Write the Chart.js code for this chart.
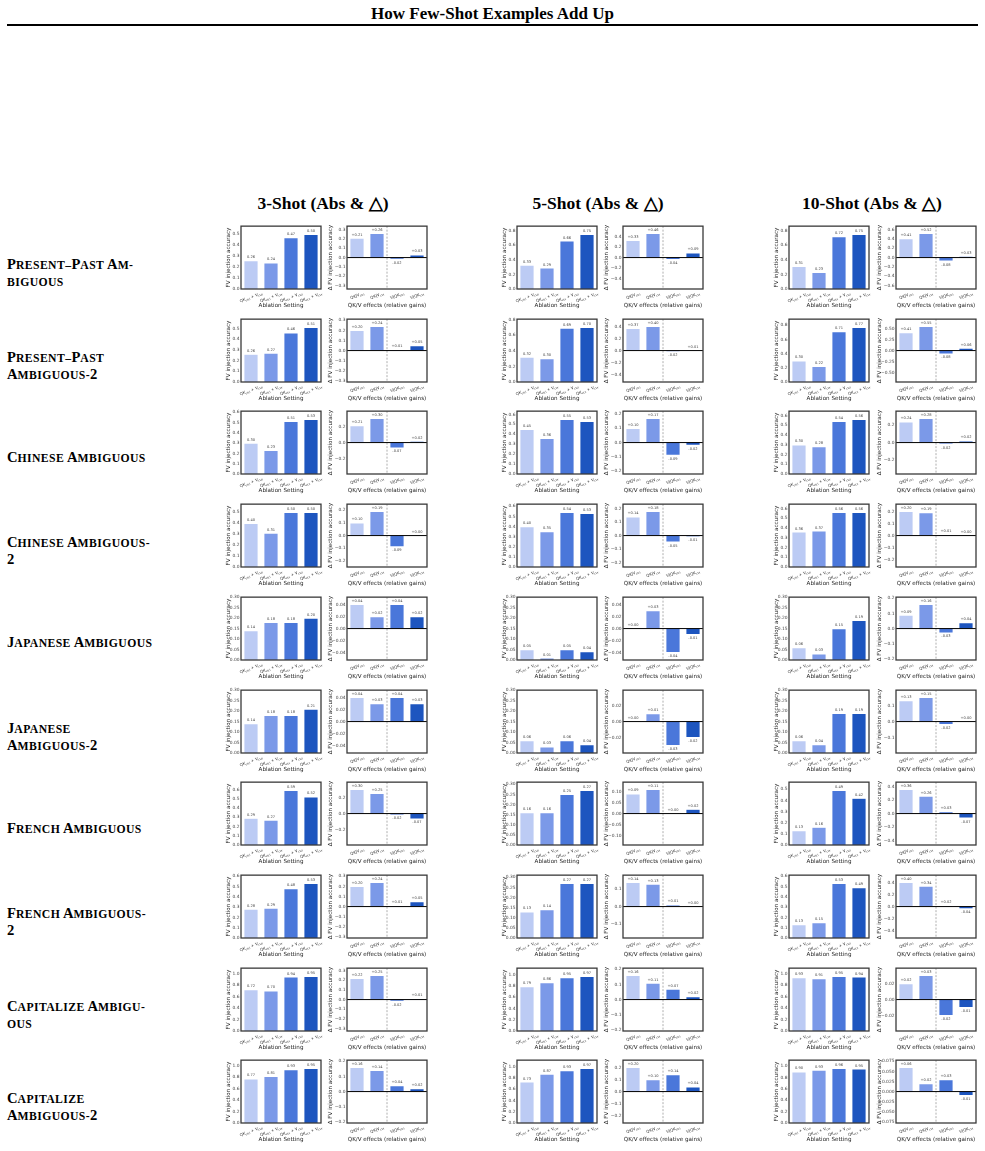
<!DOCTYPE html>
<html>
<head>
<meta charset="utf-8">
<script src="https://cdn.jsdelivr.net/npm/chart.js@4.4.1/dist/chart.umd.min.js"></script>
<style>
  body { margin: 0; background: #fff; }
  #page { position: relative; width: 985px; height: 1151px; overflow: hidden; }
  .title { position: absolute; left: 0; width: 985px; top: 4px; text-align: center; font: bold 17px "Liberation Serif"; }
  .rule { position: absolute; left: 7px; width: 971px; top: 24px; height: 2px; background: #000; }
  .head { position: absolute; top: 193px; width: 240px; text-align: center; font: bold 17.5px/20px "Liberation Serif"; }
  .task { position: absolute; left: 7px; font-family: "Liberation Serif"; font-weight: bold; line-height: 15px; white-space: nowrap; }
  .task span { line-height: 15px; }
  .task .b { font-size: 14.6px; }
  .task .s { font-size: 11.7px; letter-spacing: 0.4px; }
  canvas { position: absolute; }
</style>
</head>
<body>
<div id="page">
  <div class="title">How Few-Shot Examples Add Up</div>
  <div class="rule"></div>
</div>
<script>
// ---- data ----
const shots = ['3-Shot', '5-Shot', '10-Shot'];
const taskLines = [
  ['Present–Past Am-', 'biguous'],
  ['Present–Past', 'Ambiguous-2'],
  ['Chinese Ambiguous'],
  ['Chinese Ambiguous-', '2'],
  ['Japanese Ambiguous'],
  ['Japanese', 'Ambiguous-2'],
  ['French Ambiguous'],
  ['French Ambiguous-', '2'],
  ['Capitalize Ambigu-', 'ous'],
  ['Capitalize', 'Ambiguous-2']
];
const settings = ['QK_ctrl + V_ctrl', 'QK_ctrl + V_ctx', 'QK_ctx + V_ctrl', 'QK_ctx + V_ctx'];
const effects = ['QK|V_ctrl', 'QK|V_ctx', 'V|QK_ctrl', 'V|QK_ctx'];

const abs3 = [
  [0.26, 0.24, 0.47, 0.50], [0.26, 0.27, 0.46, 0.51], [0.30, 0.23, 0.51, 0.53],
  [0.40, 0.31, 0.50, 0.50], [0.14, 0.18, 0.18, 0.20], [0.14, 0.18, 0.18, 0.21],
  [0.29, 0.27, 0.59, 0.52], [0.28, 0.29, 0.48, 0.53], [0.72, 0.70, 0.94, 0.95],
  [0.77, 0.81, 0.93, 0.95]
];
const delta3 = [
  [0.21, 0.26, -0.02, 0.03], [0.20, 0.24, 0.01, 0.05], [0.21, 0.30, -0.07, 0.02],
  [0.10, 0.19, -0.09, 0.00], [0.04, 0.02, 0.04, 0.02], [0.04, 0.03, 0.04, 0.03],
  [0.30, 0.25, -0.02, -0.07], [0.20, 0.24, 0.01, 0.05], [0.22, 0.25, -0.02, 0.01],
  [0.16, 0.14, 0.04, 0.02]
];
const abs5 = [
  [0.33, 0.29, 0.66, 0.75], [0.32, 0.30, 0.69, 0.70], [0.45, 0.36, 0.55, 0.53],
  [0.40, 0.35, 0.54, 0.53], [0.05, 0.01, 0.05, 0.04], [0.06, 0.03, 0.06, 0.04],
  [0.16, 0.16, 0.25, 0.27], [0.13, 0.14, 0.27, 0.27], [0.79, 0.86, 0.95, 0.97],
  [0.73, 0.87, 0.93, 0.97]
];
const delta5 = [
  [0.33, 0.46, -0.04, 0.09], [0.37, 0.40, -0.02, 0.01], [0.10, 0.17, -0.09, -0.02],
  [0.14, 0.18, -0.05, -0.01], [0.00, 0.03, -0.04, -0.01], [0.00, 0.01, -0.03, -0.02],
  [0.09, 0.11, 0.00, 0.02], [0.14, 0.13, 0.01, 0.00], [0.16, 0.11, 0.07, 0.02],
  [0.20, 0.10, 0.14, 0.04]
];
const abs10 = [
  [0.31, 0.23, 0.72, 0.75], [0.30, 0.22, 0.71, 0.77], [0.30, 0.28, 0.54, 0.56],
  [0.36, 0.37, 0.56, 0.56], [0.06, 0.03, 0.15, 0.19], [0.06, 0.04, 0.19, 0.19],
  [0.13, 0.16, 0.49, 0.42], [0.13, 0.15, 0.53, 0.49], [0.93, 0.91, 0.95, 0.94],
  [0.90, 0.93, 0.96, 0.95]
];
const delta10 = [
  [0.41, 0.52, -0.08, 0.03], [0.41, 0.55, -0.08, 0.06], [0.24, 0.28, -0.02, 0.02],
  [0.20, 0.19, 0.01, 0.00], [0.09, 0.16, -0.03, 0.04], [0.13, 0.15, -0.02, 0.00],
  [0.36, 0.26, 0.03, -0.07], [0.40, 0.34, 0.02, -0.04], [0.02, 0.03, -0.02, -0.01],
  [0.06, 0.02, 0.03, -0.01]
];
const absData = [abs3, abs5, abs10];
const deltaData = [delta3, delta5, delta10];

const barColors = ['#bccbf4', '#7b99e8', '#4a77da', '#1d55bf'];

// ---- layout ----
const absLeft = [241, 517, 789];
const deltaLeft = [347, 623, 896];
const headCenter = [323, 598, 872];
const plotW = 80, plotH = 63;
const rowTop = r => 226 + r * 92.7;

const page = document.getElementById('page');
Chart.defaults.font.family = '"DejaVu Sans"';
Chart.defaults.color = '#333';

// matplotlib-ish tick step (about 7 bins)
function niceStep(range) {
  const raw = range / 7;
  const mag = Math.pow(10, Math.floor(Math.log10(raw)));
  const n = raw / mag;
  for (const s of [1, 2, 2.5, 5, 10]) if (n <= s + 1e-9) return s * mag;
  return 10 * mag;
}
function decimals(step) {
  let d = 0;
  while (Math.abs(Math.round(step * Math.pow(10, d)) - step * Math.pow(10, d)) > 1e-6) d++;
  return d;
}
function tickValues(min, max, step) {
  const out = [];
  for (let k = Math.ceil(min / step - 1e-9); k * step <= max + 1e-9; k++) out.push(+(k * step).toFixed(6));
  return out;
}
// "QK_ctrl + V_ctx" -> [['QK',0],['ctrl',1],[' + V',0],['ctx',1]]
function labelParts(s) {
  return s.split(/_(\w+)/).filter(t => t !== '').map(t => [t, /^(ctrl|ctx)$/.test(t) ? 1 : 0]);
}
// hand-made small caps like the LaTeX row labels
function smallCaps(line) {
  return line.split(' ').map(word => {
    let html = '';
    for (const ch of word) {
      const big = ch !== ch.toLowerCase() || /[0-9]/.test(ch);
      html += '<span class="' + (big ? 'b' : 's') + '">' + ch.toUpperCase() + '</span>';
    }
    return html;
  }).join('<span class="b"> </span>');
}

const decor = {
  id: 'decor',
  afterDatasetsDraw(chart, args, opts) {
    const ctx = chart.ctx, a = chart.chartArea;
    const xs = chart.scales.x, ys = chart.scales.y;
    ctx.save();
    if (opts.delta) {
      const xm = (xs.getPixelForValue(1) + xs.getPixelForValue(2)) / 2;
      ctx.strokeStyle = '#9a9a9a'; ctx.lineWidth = 0.8; ctx.setLineDash([2, 1.5]);
      ctx.beginPath(); ctx.moveTo(xm, a.top); ctx.lineTo(xm, a.bottom); ctx.stroke();
      ctx.setLineDash([]);
      const y0 = ys.getPixelForValue(0);
      ctx.strokeStyle = '#000'; ctx.lineWidth = 1;
      ctx.beginPath(); ctx.moveTo(a.left, y0); ctx.lineTo(a.right, y0); ctx.stroke();
    }
    // bar value labels
    const meta = chart.getDatasetMeta(0);
    ctx.font = '3.6px "DejaVu Sans"'; ctx.fillStyle = '#444'; ctx.textAlign = 'center';
    chart.data.datasets[0].data.forEach((v, i) => {
      const bar = meta.data[i];
      let txt = v.toFixed(2);
      if (opts.delta && v >= 0) txt = '+' + txt;
      if (v >= 0) { ctx.textBaseline = 'bottom'; ctx.fillText(txt, bar.x, bar.y - 1.5); }
      else { ctx.textBaseline = 'top'; ctx.fillText(txt, bar.x, bar.y + 1.5); }
    });
    // rotated category labels with subscripts
    const ang = 20 * Math.PI / 180;
    const fontFor = lv => lv ? '2.9px "DejaVu Sans"' : '4px "DejaVu Sans"';
    ctx.fillStyle = '#333'; ctx.textAlign = 'left'; ctx.textBaseline = 'alphabetic';
    chart.data.labels.forEach((lab, i) => {
      const parts = labelParts(lab);
      let w = 0;
      parts.forEach(([t, lv]) => { ctx.font = fontFor(lv); w += ctx.measureText(t).width; });
      const bh = w * Math.sin(ang) + 4 * Math.cos(ang);
      const x = xs.getPixelForValue(i);
      ctx.save();
      ctx.translate(x, a.bottom + 2 + bh / 2);
      ctx.rotate(-ang);
      let cx = -w / 2;
      parts.forEach(([t, lv]) => {
        ctx.font = fontFor(lv);
        ctx.fillText(t, cx, 1.5 + (lv ? 1 : 0));
        cx += ctx.measureText(t).width;
      });
      ctx.restore();
    });
    ctx.restore();
  },
  afterDraw(chart) {
    const ctx = chart.ctx, a = chart.chartArea;
    ctx.save();
    ctx.strokeStyle = '#3a3a3a'; ctx.lineWidth = 1.3;
    ctx.strokeRect(a.left, a.top, a.right - a.left, a.bottom - a.top);
    ctx.restore();
  }
};

function makeChart(left, top, values, labels, isDelta, xTitle, yTitle) {
  const yW = isDelta ? 20 : 16;
  const padTop = 4, padRight = 3, xH = 20;
  const canvas = document.createElement('canvas');
  const w = plotW + yW + padRight, h = plotH + padTop + xH;
  canvas.width = w; canvas.height = h;
  canvas.style.left = (left - yW) + 'px';
  canvas.style.top = (top - padTop) + 'px';
  canvas.style.width = w + 'px'; canvas.style.height = h + 'px';
  page.appendChild(canvas);

  let min, max;
  if (isDelta) {
    const m = Math.max(...values.map(Math.abs)) * 1.3;
    min = -m; max = m;
  } else {
    min = 0; max = Math.max(0.3, Math.max(...values) * 1.15);
  }
  const step = niceStep(max - min);
  const dec = decimals(step);
  const ticks = tickValues(min, max, step);

  new Chart(canvas, {
    type: 'bar',
    data: {
      labels: labels,
      datasets: [{
        data: values,
        backgroundColor: barColors,
        borderColor: '#ffffff',
        borderWidth: 0.7,
        barPercentage: 0.73,
        categoryPercentage: 1
      }]
    },
    options: {
      responsive: false,
      animation: false,
      events: [],
      layout: { padding: { top: padTop, right: padRight, left: 0, bottom: 0 } },
      plugins: { legend: { display: false }, tooltip: { enabled: false }, decor: { delta: isDelta } },
      scales: {
        x: {
          grid: { display: false, drawTicks: false },
          border: { display: false },
          ticks: { display: false },
          title: { display: true, text: xTitle, font: { size: 5.6 }, color: '#222', padding: 0 },
          afterFit: s => { s.height = xH; }
        },
        y: {
          min: min, max: max,
          grid: { display: false, drawTicks: false },
          border: { display: false },
          ticks: {
            autoSkip: false, padding: 1.5, font: { size: 4.4 }, color: '#444',
            callback: v => v.toFixed(dec).replace('-', '−')
          },
          afterBuildTicks: s => { s.ticks = ticks.map(v => ({ value: v })); },
          title: { display: true, text: yTitle, font: { size: 5.6 }, color: '#222', padding: { top: 0.5, bottom: 0 } },
          afterFit: s => { s.width = yW; }
        }
      }
    },
    plugins: [decor]
  });
}

shots.forEach((s, c) => {
  const hd = document.createElement('div');
  hd.className = 'head';
  hd.style.left = (headCenter[c] - 120) + 'px';
  hd.textContent = s + ' (Abs & △)';
  page.appendChild(hd);
});

taskLines.forEach((lines, r) => {
  const top = rowTop(r);
  const tl = document.createElement('div');
  tl.className = 'task';
  tl.style.top = (top + 45 - lines.length * 7.5) + 'px';
  tl.innerHTML = lines.map(smallCaps).join('<br>');
  page.appendChild(tl);
  for (let c = 0; c < 3; c++) {
    makeChart(absLeft[c], top, absData[c][r], settings, false, 'Ablation Setting', 'FV injection accuracy');
    makeChart(deltaLeft[c], top, deltaData[c][r], effects, true, 'QK/V effects (relative gains)', 'Δ FV injection accuracy');
  }
});
</script>
</body>
</html>
